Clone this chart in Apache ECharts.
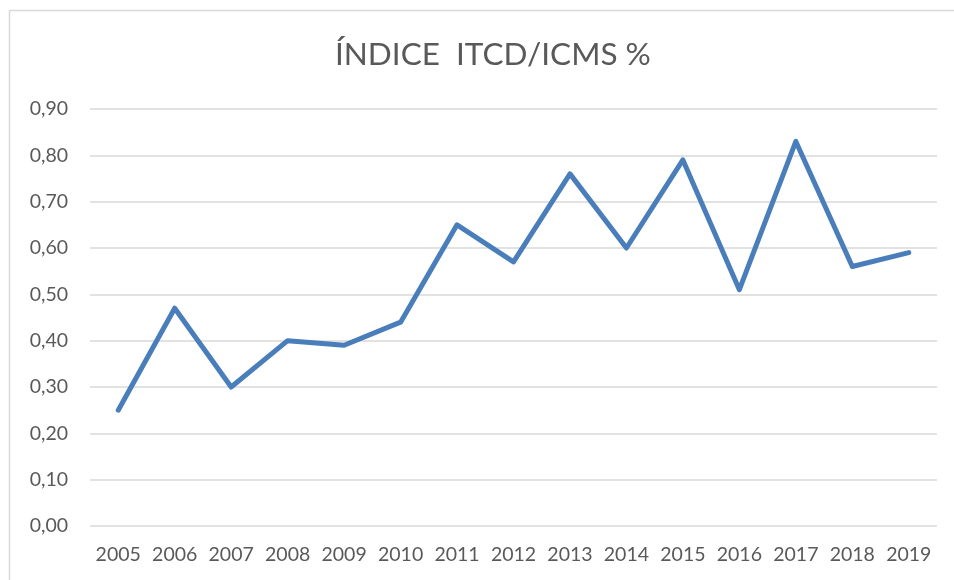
<!DOCTYPE html>
<html>
    <head>
        <meta charset="utf-8">
        <style>
            html, body { margin: 0; padding: 0; background: #fff; }
        </style>
    </head>
    <body>
        <div id="graph" style="width: 954px; height: 580px"></div>
        <script type="text/javascript" src="https://cdn.jsdelivr.net/npm/echarts@6/dist/echarts.min.js"></script>
        <script type="text/javascript">

            const years = ['2005', '2006', '2007', '2008', '2009', '2010', '2011', '2012',
                           '2013', '2014', '2015', '2016', '2017', '2018', '2019'];
            const indice = [0.25, 0.47, 0.30, 0.40, 0.39, 0.44, 0.65, 0.57,
                            0.76, 0.60, 0.79, 0.51, 0.83, 0.56, 0.59];
            const yTicks = [0, 0.1, 0.2, 0.3, 0.4, 0.5, 0.6, 0.7, 0.8, 0.9];

            let myChart = echarts.init(document.getElementById('graph'));

            let option = {
                animation: false,
                textStyle: { fontFamily: 'Lato' },
                title: {
                    text: 'ÍNDICE  ITCD/ICMS %',
                    left: 330,
                    top: 34,
                    textStyle: { fontSize: 31.5, fontWeight: 'normal', color: '#595959', fontFamily: 'Lato' }
                },
                graphic: [{
                    type: 'rect',
                    shape: { x: 9.5, y: 10.5, width: 960, height: 600 },
                    style: { fill: 'none', stroke: '#d9d9d9', lineWidth: 1.5 },
                    silent: true
                }],
                grid: { left: 90, right: 17, top: 109, bottom: 54 },
                xAxis: {
                    type: 'category',
                    data: years,
                    boundaryGap: true,
                    axisLine: { show: false },
                    axisTick: { show: false },
                    axisLabel: { color: '#595959', fontSize: 19.5, margin: 19, interval: 0, hideOverlap: false }
                },
                yAxis: {
                    type: 'value',
                    min: 0,
                    max: yTicks[yTicks.length - 1],
                    interval: 0.1,
                    axisLine: { show: false },
                    axisTick: { show: false },
                    axisLabel: {
                        color: '#595959',
                        fontSize: 19.5,
                        margin: 22,
                        formatter: v => v.toFixed(2).replace('.', ',')
                    },
                    splitLine: { lineStyle: { color: '#d9d9d9', width: 1.5 } }
                },
                series: [{
                    type: 'line',
                    data: indice,
                    symbol: 'none',
                    lineStyle: { color: '#4a7ebb', width: 5, cap: 'round', join: 'round' }
                }]
            };

            myChart.setOption(option);

        </script>
    </body>
</html>
